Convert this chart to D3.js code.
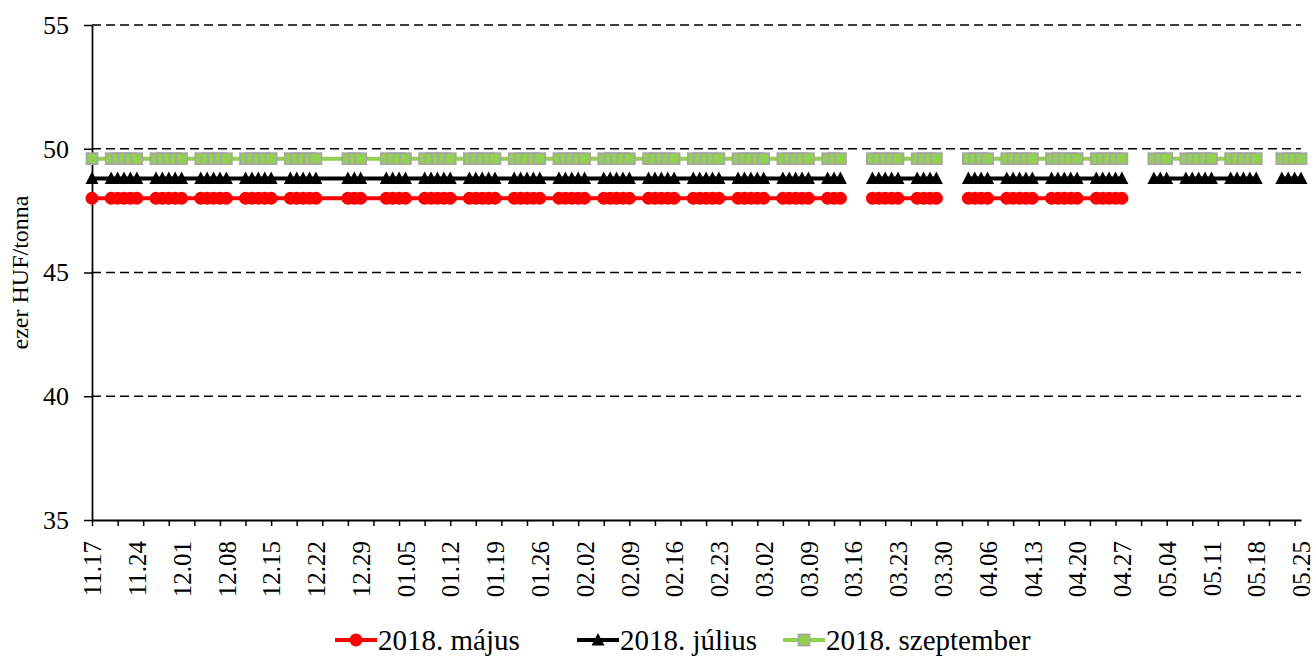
<!DOCTYPE html>
<html><head><meta charset="utf-8">
<script src="https://cdn.jsdelivr.net/npm/d3@7"></script>
<style>body{margin:0;background:#fff}svg{display:block}</style>
</head><body><svg id="c" width="1314" height="657"></svg>
<script>
// ---- DATA ----
const dates = [
"2017-11-17",
"2017-11-20","2017-11-21","2017-11-22","2017-11-23","2017-11-24",
"2017-11-27","2017-11-28","2017-11-29","2017-11-30","2017-12-01",
"2017-12-04","2017-12-05","2017-12-06","2017-12-07","2017-12-08",
"2017-12-11","2017-12-12","2017-12-13","2017-12-14","2017-12-15",
"2017-12-18","2017-12-19","2017-12-20","2017-12-21","2017-12-22",
"2017-12-27","2017-12-28","2017-12-29",
"2018-01-02","2018-01-03","2018-01-04","2018-01-05",
"2018-01-08","2018-01-09","2018-01-10","2018-01-11","2018-01-12",
"2018-01-15","2018-01-16","2018-01-17","2018-01-18","2018-01-19",
"2018-01-22","2018-01-23","2018-01-24","2018-01-25","2018-01-26",
"2018-01-29","2018-01-30","2018-01-31","2018-02-01","2018-02-02",
"2018-02-05","2018-02-06","2018-02-07","2018-02-08","2018-02-09",
"2018-02-12","2018-02-13","2018-02-14","2018-02-15","2018-02-16",
"2018-02-19","2018-02-20","2018-02-21","2018-02-22","2018-02-23",
"2018-02-26","2018-02-27","2018-02-28","2018-03-01","2018-03-02",
"2018-03-05","2018-03-06","2018-03-07","2018-03-08","2018-03-09",
"2018-03-12","2018-03-13","2018-03-14","2018-03-15","2018-03-16",
"2018-03-19","2018-03-20","2018-03-21","2018-03-22","2018-03-23",
"2018-03-26","2018-03-27","2018-03-28","2018-03-29","2018-03-30",
"2018-04-02","2018-04-03","2018-04-04","2018-04-05","2018-04-06",
"2018-04-09","2018-04-10","2018-04-11","2018-04-12","2018-04-13",
"2018-04-16","2018-04-17","2018-04-18","2018-04-19","2018-04-20",
"2018-04-23","2018-04-24","2018-04-25","2018-04-26","2018-04-27",
"2018-04-30","2018-05-01","2018-05-02","2018-05-03","2018-05-04",
"2018-05-07","2018-05-08","2018-05-09","2018-05-10","2018-05-11",
"2018-05-14","2018-05-15","2018-05-16","2018-05-17","2018-05-18",
"2018-05-21","2018-05-22","2018-05-23","2018-05-24","2018-05-25"
];
const N = null;
const majus = [
48.0,
48.0,48.0,48.0,48.0,48.0,
48.0,48.0,48.0,48.0,48.0,
48.0,48.0,48.0,48.0,48.0,
48.0,48.0,48.0,48.0,48.0,
48.0,48.0,48.0,48.0,48.0,
48.0,48.0,48.0,
48.0,48.0,48.0,48.0,
48.0,48.0,48.0,48.0,48.0,
48.0,48.0,48.0,48.0,48.0,
48.0,48.0,48.0,48.0,48.0,
48.0,48.0,48.0,48.0,48.0,
48.0,48.0,48.0,48.0,48.0,
48.0,48.0,48.0,48.0,48.0,
48.0,48.0,48.0,48.0,48.0,
48.0,48.0,48.0,48.0,48.0,
48.0,48.0,48.0,48.0,48.0,
48.0,48.0,48.0,N,N,
48.0,48.0,48.0,48.0,48.0,
48.0,48.0,48.0,48.0,N,
N,48.0,48.0,48.0,48.0,
48.0,48.0,48.0,48.0,48.0,
48.0,48.0,48.0,48.0,48.0,
48.0,48.0,48.0,48.0,48.0,
N,N,N,N,N,
N,N,N,N,N,
N,N,N,N,N,
N,N,N,N,N
];
const julius = [
48.8,
48.8,48.8,48.8,48.8,48.8,
48.8,48.8,48.8,48.8,48.8,
48.8,48.8,48.8,48.8,48.8,
48.8,48.8,48.8,48.8,48.8,
48.8,48.8,48.8,48.8,48.8,
48.8,48.8,48.8,
48.8,48.8,48.8,48.8,
48.8,48.8,48.8,48.8,48.8,
48.8,48.8,48.8,48.8,48.8,
48.8,48.8,48.8,48.8,48.8,
48.8,48.8,48.8,48.8,48.8,
48.8,48.8,48.8,48.8,48.8,
48.8,48.8,48.8,48.8,48.8,
48.8,48.8,48.8,48.8,48.8,
48.8,48.8,48.8,48.8,48.8,
48.8,48.8,48.8,48.8,48.8,
48.8,48.8,48.8,N,N,
48.8,48.8,48.8,48.8,48.8,
48.8,48.8,48.8,48.8,N,
N,48.8,48.8,48.8,48.8,
48.8,48.8,48.8,48.8,48.8,
48.8,48.8,48.8,48.8,48.8,
48.8,48.8,48.8,48.8,48.8,
N,N,48.8,48.8,48.8,
48.8,48.8,48.8,48.8,48.8,
48.8,48.8,48.8,48.8,48.8,
N,48.8,48.8,48.8,48.8
];
const szeptember = [
49.6,
49.6,49.6,49.6,49.6,49.6,
49.6,49.6,49.6,49.6,49.6,
49.6,49.6,49.6,49.6,49.6,
49.6,49.6,49.6,49.6,49.6,
49.6,49.6,49.6,49.6,49.6,
49.6,49.6,49.6,
49.6,49.6,49.6,49.6,
49.6,49.6,49.6,49.6,49.6,
49.6,49.6,49.6,49.6,49.6,
49.6,49.6,49.6,49.6,49.6,
49.6,49.6,49.6,49.6,49.6,
49.6,49.6,49.6,49.6,49.6,
49.6,49.6,49.6,49.6,49.6,
49.6,49.6,49.6,49.6,49.6,
49.6,49.6,49.6,49.6,49.6,
49.6,49.6,49.6,49.6,49.6,
49.6,49.6,49.6,N,N,
49.6,49.6,49.6,49.6,49.6,
49.6,49.6,49.6,49.6,N,
N,49.6,49.6,49.6,49.6,
49.6,49.6,49.6,49.6,49.6,
49.6,49.6,49.6,49.6,49.6,
49.6,49.6,49.6,49.6,49.6,
N,N,49.6,49.6,49.6,
49.6,49.6,49.6,49.6,49.6,
49.6,49.6,49.6,49.6,49.6,
N,49.6,49.6,49.6,49.6
];
const seriesNames = ["2018. május","2018. július","2018. szeptember"];
const xTickLabels = ["11.17","11.24","12.01","12.08","12.15","12.22","12.29","01.05","01.12","01.19","01.26","02.02","02.09","02.16","02.23","03.02","03.09","03.16","03.23","03.30","04.06","04.13","04.20","04.27","05.04","05.11","05.18","05.25"];
const yTicks = [35,40,45,50,55];
const yGrid = [40,45,50,55];
const yTitle = "ezer HUF/tonna";

// ---- CHART ----
const FONT = "'Liberation Serif','Times New Roman',serif";
const svg = d3.select("#c");
const L = 92, R = 1301, T = 25, B = 520;
const parse = d3.utcParse("%Y-%m-%d");
const start = parse("2017-11-17"), end = parse("2018-05-25");
const x = d3.scaleUtc().domain([start, end]).range([L, R]);
const y = d3.scaleLinear().domain([35, 55]).range([B, T]);

// gridlines
svg.append("g").selectAll("line").data(yGrid).join("line")
  .attr("x1", L).attr("x2", R).attr("y1", d => y(d)).attr("y2", d => y(d))
  .attr("stroke", "#000").attr("stroke-width", 1.5).attr("stroke-dasharray", "9,5");

// y axis
const yAxis = svg.append("g").attr("transform", `translate(${L},0)`)
  .call(d3.axisLeft(y).tickValues(yTicks).tickSize(8).tickSizeOuter(0).tickPadding(15));
yAxis.select(".domain").attr("stroke", "#000").attr("stroke-width", 1.75);
yAxis.selectAll(".tick line").attr("stroke", "#000").attr("stroke-width", 1.5);
yAxis.selectAll("text").attr("font-family", FONT).attr("font-size", 26).attr("fill", "#000");

// x axis tick marks every 4 days
const tickDates = d3.range(0, 189, 4).map(k => d3.utcDay.offset(start, k));
const xAxis = svg.append("g").attr("transform", `translate(0,${B})`)
  .call(d3.axisBottom(x).tickValues(tickDates).tickFormat("").tickSize(6).tickSizeOuter(0));
xAxis.select(".domain").attr("stroke", "#000").attr("stroke-width", 2);
xAxis.selectAll(".tick line").attr("stroke", "#000").attr("stroke-width", 1.5);

// x labels
const labelDate = s => { const [m, d] = s.split(".").map(Number); return new Date(Date.UTC(m >= 11 ? 2017 : 2018, m - 1, d)); };
const xLab = svg.append("g").attr("transform", `translate(0,${B})`)
  .call(d3.axisBottom(x).tickValues(xTickLabels.map(labelDate)).tickFormat(d3.utcFormat("%m.%d")).tickSize(0));
xLab.select(".domain").remove();
xLab.selectAll("text").attr("font-family", FONT).attr("font-size", 25).attr("fill", "#000")
  .attr("transform", "rotate(-90)").attr("text-anchor", "end")
  .attr("x", -21).attr("y", 0).attr("dy", "0.35em");

// y title
svg.append("text").attr("transform", `translate(28,${(T + B) / 2}) rotate(-90)`)
  .attr("text-anchor", "middle").attr("font-family", FONT).attr("font-size", 24).text(yTitle);

// series
const cfg = [
  { name: seriesNames[0], vals: majus, color: "#ff0000", marker: "circle" },
  { name: seriesNames[1], vals: julius, color: "#000000", marker: "triangle" },
  { name: seriesNames[2], vals: szeptember, color: "#92d050", marker: "square" }
];
const line = d3.line().defined(d => d.v != null).x(d => x(d.t)).y(d => y(d.v));
function drawMarker(g, type, cx, cy) {
  if (type === "circle") {
    g.append("circle").attr("cx", cx).attr("cy", cy).attr("r", 6.5).attr("fill", "#ff0000");
  } else if (type === "triangle") {
    g.append("path").attr("d", `M${cx},${cy - 7}L${cx + 6.5},${cy + 5.5}L${cx - 6.5},${cy + 5.5}Z`).attr("fill", "#000");
  } else {
    g.append("rect").attr("x", cx - 5.5).attr("y", cy - 5.5).attr("width", 11).attr("height", 11)
      .attr("fill", "#92d050").attr("stroke", "#a6a6a6").attr("stroke-width", 1.75);
  }
}
cfg.forEach(s => {
  const pts = dates.map((d, i) => ({ t: parse(d), v: s.vals[i] }));
  const g = svg.append("g");
  g.append("path").attr("d", line(pts)).attr("fill", "none").attr("stroke", s.color).attr("stroke-width", 4);
  pts.filter(p => p.v != null).forEach(p => drawMarker(g, s.marker, x(p.t), y(p.v)));
});

// legend
const legX = [335, 577, 783];
cfg.forEach((s, i) => {
  const g = svg.append("g").attr("transform", `translate(${legX[i]},640)`);
  g.append("line").attr("x1", 0).attr("x2", 42).attr("stroke", s.color).attr("stroke-width", 4);
  drawMarker(g, s.marker, 21, 0);
  g.append("text").attr("x", 43).attr("dy", "0.35em").attr("font-family", FONT).attr("font-size", 29).text(s.name);
});
</script></body></html>
